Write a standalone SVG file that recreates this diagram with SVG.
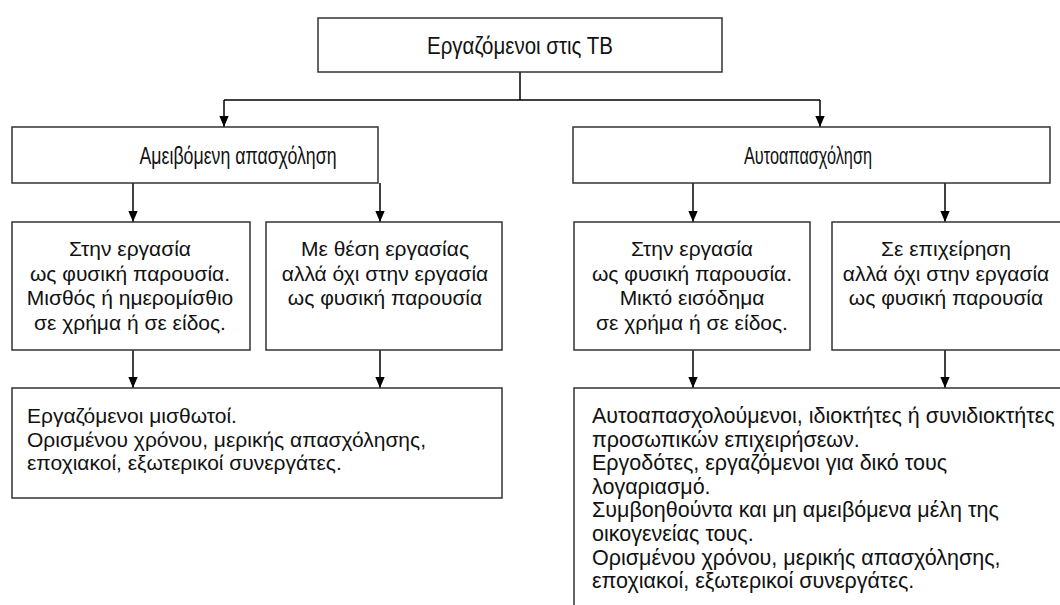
<svg xmlns="http://www.w3.org/2000/svg" width="1060" height="605" viewBox="0 0 1060 605">
<defs>
<marker id="ah" markerWidth="11" markerHeight="13" refX="13" refY="5.5" orient="auto" markerUnits="userSpaceOnUse" viewBox="0 0 13 11">
<path d="M0,0 L13,5.5 L0,11 Z" fill="#000"/>
</marker>
</defs>
<style>
.box{fill:#fff;stroke:#333;stroke-width:1.5}
.t{font-family:"Liberation Sans",Arial,sans-serif;font-size:21px;fill:#111}
.r{font-size:21.5px}
.n{font-family:"Liberation Sans",Arial,sans-serif;font-size:21px;fill:#111;text-anchor:middle}
.h{font-family:"Liberation Sans Narrow","Liberation Sans",Arial,sans-serif;font-size:23px;fill:#111;text-anchor:middle}
.ln{stroke:#000;stroke-width:1.5;fill:none}
</style>
<rect width="1060" height="605" fill="#fff"/>
<g id="connectors">
<path class="ln" d="M520,72 V100" stroke-width="2"/>
<path class="ln" d="M224,100 H820" stroke-width="3"/>
<path class="ln" d="M224,100 V127" marker-end="url(#ah)"/>
<path class="ln" d="M820,100 V127" marker-end="url(#ah)"/>
<path class="ln" d="M133,183 V222" marker-end="url(#ah)"/>
<path class="ln" d="M380,183 V222" marker-end="url(#ah)"/>
<path class="ln" d="M693,183 V222" marker-end="url(#ah)"/>
<path class="ln" d="M945,183 V222" marker-end="url(#ah)"/>
<path class="ln" d="M133,350 V388" marker-end="url(#ah)"/>
<path class="ln" d="M380,350 V388" marker-end="url(#ah)"/>
<path class="ln" d="M693,350 V388" marker-end="url(#ah)"/>
<path class="ln" d="M945,350 V388" marker-end="url(#ah)"/>
</g>
<g id="root">
<rect class="box" x="318" y="18" width="404" height="54"/>
<text class="h" x="520" y="53.5" textLength="186" lengthAdjust="spacingAndGlyphs">Εργαζόμενοι στις ΤΒ</text>
</g>
<g id="paid">
<rect class="box" x="12" y="127" width="366" height="56"/>
<text class="h" x="238" y="163.5" textLength="197" lengthAdjust="spacingAndGlyphs">Αμειβόμενη απασχόληση</text>
</g>
<g id="self">
<rect class="box" x="573" y="127" width="477" height="56"/>
<text class="h" x="808" y="163.5" textLength="128" lengthAdjust="spacingAndGlyphs">Αυτοαπασχόληση</text>
</g>
<g id="paid-present">
<rect class="box" x="12" y="222" width="238" height="128"/>
<text class="n" x="130" y="256">Στην εργασία</text>
<text class="n" x="130" y="280.5">ως φυσική παρουσία.</text>
<text class="n" x="130" y="305">Μισθός ή ημερομίσθιο</text>
<text class="n" x="130" y="329.5">σε χρήμα ή σε είδος.</text>
</g>
<g id="paid-absent">
<rect class="box" x="266" y="222" width="236" height="128"/>
<text class="n" x="385" y="256">Με θέση εργασίας</text>
<text class="n" x="385" y="280.5">αλλά όχι στην εργασία</text>
<text class="n" x="385" y="305">ως φυσική παρουσία</text>
</g>
<g id="self-present">
<rect class="box" x="574" y="222" width="236" height="128"/>
<text class="n" x="692" y="256">Στην εργασία</text>
<text class="n" x="692" y="280.5">ως φυσική παρουσία.</text>
<text class="n" x="692" y="305">Μικτό εισόδημα</text>
<text class="n" x="692" y="329.5">σε χρήμα ή σε είδος.</text>
</g>
<g id="self-absent">
<rect class="box" x="832" y="222" width="240" height="128"/>
<text class="n" x="946" y="256">Σε επιχείρηση</text>
<text class="n" x="946" y="280.5">αλλά όχι στην εργασία</text>
<text class="n" x="946" y="305">ως φυσική παρουσία</text>
</g>
<g id="employees">
<rect class="box" x="12" y="388" width="490" height="110"/>
<text class="t" x="27" y="423">Εργαζόμενοι μισθωτοί.</text>
<text class="t" x="27" y="446.5">Ορισμένου χρόνου, μερικής απασχόλησης,</text>
<text class="t" x="27" y="470">εποχιακοί, εξωτερικοί συνεργάτες.</text>
</g>
<g id="self-employed">
<rect class="box" x="574" y="388" width="500" height="230"/>
<text class="t r" x="592" y="423">Αυτοαπασχολούμενοι, ιδιοκτήτες ή συνιδιοκτήτες</text>
<text class="t r" x="592" y="446.6">προσωπικών επιχειρήσεων.</text>
<text class="t r" x="592" y="470.2">Εργοδότες, εργαζόμενοι για δικό τους</text>
<text class="t r" x="592" y="493.8">λογαριασμό.</text>
<text class="t r" x="592" y="517.4">Συμβοηθούντα και μη αμειβόμενα μέλη της</text>
<text class="t r" x="592" y="541">οικογενείας τους.</text>
<text class="t r" x="592" y="564.6">Ορισμένου χρόνου, μερικής απασχόλησης,</text>
<text class="t r" x="592" y="588.2">εποχιακοί, εξωτερικοί συνεργάτες.</text>
</g>
</svg>
